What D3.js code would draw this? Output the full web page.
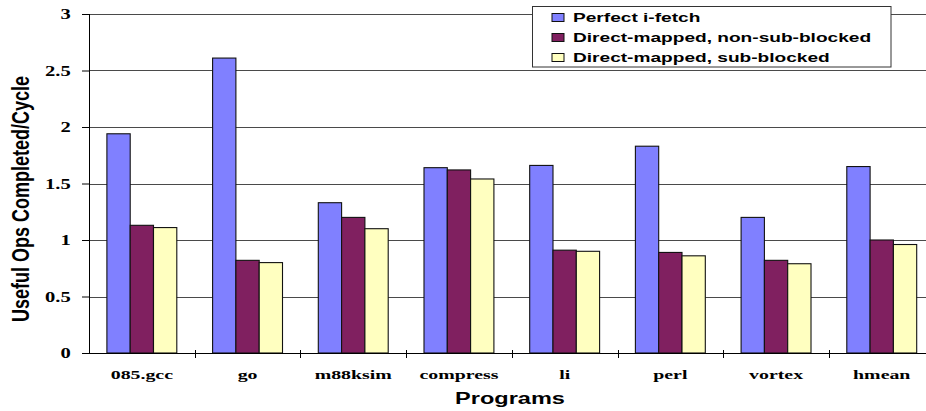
<!DOCTYPE html>
<html>
<head>
<meta charset="utf-8">
<script src="https://cdn.jsdelivr.net/npm/d3@7"></script>
<style>
  html, body { margin: 0; padding: 0; background: #fff; }
  svg { display: block; }
</style>
</head>
<body>
<svg id="chart" width="926" height="411"></svg>
<script>
// Benchmarks and the three fetch configurations
const categories = ["085.gcc", "go", "m88ksim", "compress", "li", "perl", "vortex", "hmean"];
const seriesNames = ["Perfect i-fetch", "Direct-mapped, non-sub-blocked", "Direct-mapped, sub-blocked"];
const perfectFetch = [1.94, 2.61, 1.33, 1.64, 1.66, 1.83, 1.20, 1.65];
const directNonSub = [1.13, 0.82, 1.20, 1.62, 0.91, 0.89, 0.82, 1.00];
const directSub    = [1.11, 0.80, 1.10, 1.54, 0.90, 0.86, 0.79, 0.96];
const yTicks = [0, 0.5, 1, 1.5, 2, 2.5, 3];
const yTitle = "Useful Ops Completed/Cycle";
const xTitle = "Programs";

const seriesValues = [perfectFetch, directNonSub, directSub];
const seriesColors = ["#8080ff", "#802060", "#ffffc0"];

const W = 926, H = 411;
const SX = 1.47;                 // horizontal stretch of all lettering
const SANS = "'Liberation Sans', Arial, sans-serif";
const SERIF = "'Liberation Serif', 'Times New Roman', serif";

const plot = { left: 89, top: 14, bottom: 353, right: 934.6 };

const svg = d3.select("#chart");

const x = d3.scaleBand().domain(categories).range([plot.left, plot.right]).padding(0);
const xInner = d3.scaleBand().domain(d3.range(seriesNames.length))
  .range([0, x.bandwidth()]).paddingInner(0).paddingOuter(0.768);
const y = d3.scaleLinear().domain([0, 3]).range([plot.bottom, plot.top]);

// gridlines
svg.append("g").selectAll("line")
  .data(yTicks.filter(d => d > 0))
  .join("line")
  .attr("x1", plot.left).attr("x2", W)
  .attr("y1", d => Math.round(y(d)) + 0.5).attr("y2", d => Math.round(y(d)) + 0.5)
  .attr("stroke", "#4a4a4a").attr("stroke-width", 1);

// bars
const groups = svg.append("g").selectAll("g")
  .data(categories)
  .join("g")
  .attr("transform", d => `translate(${x(d)},0)`);

groups.selectAll("rect")
  .data((c, i) => seriesValues.map((vals, s) => ({ s, v: vals[i] })))
  .join("rect")
  .attr("x", d => xInner(d.s))
  .attr("width", xInner.bandwidth())
  .attr("y", d => y(d.v))
  .attr("height", d => y(0) - y(d.v))
  .attr("fill", d => seriesColors[d.s])
  .attr("stroke", "#111")
  .attr("stroke-width", 1.1);

// y axis
const yAxis = svg.append("g")
  .attr("transform", `translate(${plot.left},0)`)
  .call(d3.axisLeft(y).tickValues(yTicks).tickSize(7).tickPadding(11).tickFormat(d3.format("")));
yAxis.select(".domain").attr("stroke", "#000").attr("d", `M0.5,${plot.top}V${plot.bottom}`);
yAxis.selectAll(".tick line").attr("stroke", "#000");
yAxis.selectAll(".tick text")
  .attr("font-family", SERIF).attr("font-weight", "bold").attr("font-size", 14)
  .attr("fill", "#000")
  .attr("x", -18.3 / SX)
  .attr("dy", "0.34em")
  .attr("transform", `scale(${SX},1)`);

// x axis line and category separators
svg.append("line")
  .attr("x1", plot.left).attr("x2", W)
  .attr("y1", plot.bottom + 0.5).attr("y2", plot.bottom + 0.5)
  .attr("stroke", "#000");
svg.append("g").selectAll("line")
  .data(categories.slice(1))
  .join("line")
  .attr("x1", d => Math.round(x(d)) + 0.5).attr("x2", d => Math.round(x(d)) + 0.5)
  .attr("y1", plot.bottom - 3).attr("y2", plot.bottom + 5)
  .attr("stroke", "#000");

// category labels
svg.append("g").selectAll("text")
  .data(categories)
  .join("text")
  .attr("transform", d => `translate(${x(d) + x.bandwidth() / 2},378.5) scale(${SX},1)`)
  .attr("text-anchor", "middle")
  .attr("font-family", SERIF).attr("font-weight", "bold").attr("font-size", 13.5)
  .text(d => d);

// axis titles
svg.append("text")
  .attr("transform", `translate(510,404) scale(${SX},1)`)
  .attr("text-anchor", "middle")
  .attr("font-family", SANS).attr("font-weight", "bold").attr("font-size", 16)
  .text(xTitle);

svg.append("text")
  .attr("transform", `translate(28.5,199) scale(1.5,1) rotate(-90)`)
  .attr("text-anchor", "middle")
  .attr("font-family", SANS).attr("font-weight", "bold").attr("font-size", 16)
  .attr("textLength", 246).attr("lengthAdjust", "spacingAndGlyphs")
  .text(yTitle);

// legend
const legend = svg.append("g");
legend.append("rect")
  .attr("x", 532.5).attr("y", 6.5).attr("width", 358.5).attr("height", 60.5)
  .attr("fill", "#fff").attr("stroke", "#333").attr("stroke-width", 1);

const items = legend.selectAll("g.item")
  .data(seriesNames)
  .join("g")
  .attr("class", "item")
  .attr("transform", (d, i) => `translate(552,${21.5 + i * 20})`);
items.append("rect")
  .attr("x", 0).attr("y", -8).attr("width", 12).attr("height", 8)
  .attr("fill", (d, i) => seriesColors[i])
  .attr("stroke", "#111").attr("stroke-width", 1);
items.append("text")
  .attr("transform", `translate(21,0) scale(${SX},1)`)
  .attr("font-family", SANS).attr("font-weight", "bold").attr("font-size", 13)
  .text(d => d);
</script>
</body>
</html>
